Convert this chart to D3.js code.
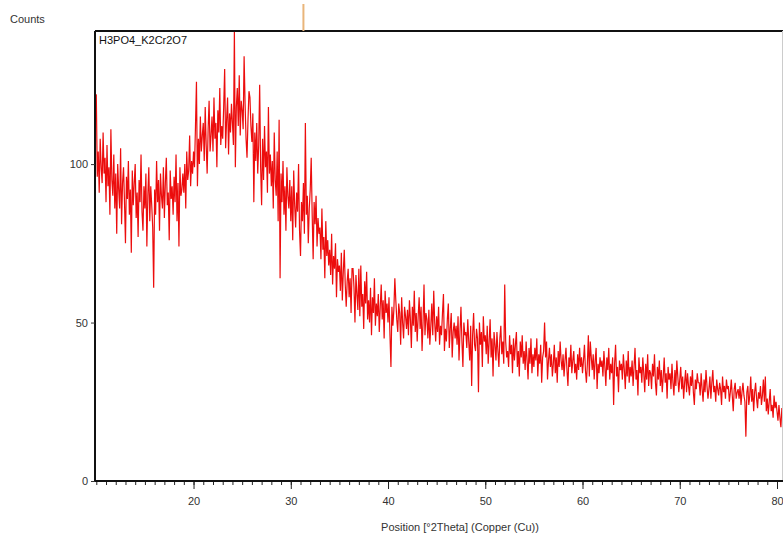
<!DOCTYPE html>
<html>
<head>
<meta charset="utf-8">
<script src="https://cdn.jsdelivr.net/npm/d3@7"></script>
<style>
  body { margin: 0; background: #fff; }
  svg { display: block; font-family: Arial, "Liberation Sans", sans-serif; }
</style>
</head>
<body>
<div id="chart"></div>
<script>
// Scan settings (2Theta, degrees)
const startAngle = 10.0;
const stepSize = 0.1;

// Counts, one row per degree (10.0 .. 80.9), then 81.0
const counts = [
  122, 96, 104, 91, 108, 99, 94, 110, 97, 102,
  88, 106, 93, 99, 84, 111, 95, 90, 103, 86,
  97, 78, 100, 92, 86, 105, 81, 94, 99, 88,
  75, 96, 89, 101, 84, 92, 72, 98, 87, 94,
  100, 83, 91, 77, 95, 88, 103, 85, 79, 93,
  86, 97, 74, 90, 99, 82, 93, 87, 80, 61,
  92, 84, 101, 88, 95, 79, 97, 90, 86, 99,
  83, 94, 102, 87, 91, 76, 98, 89, 93, 84,
  96, 88, 103, 82, 94, 74, 99, 90, 92, 97,
  91, 100, 86, 104, 95, 98, 109, 93, 101, 97,
  104, 99, 112, 126, 93, 108, 100, 115, 104, 109,
  113, 101, 118, 106, 97, 111, 120, 104, 109, 115,
  104, 121, 108, 113, 99, 117, 110, 124, 106, 112,
  108, 118, 130, 105, 114, 121, 103, 116, 110, 119,
  113, 106, 142, 99, 118, 124, 112, 128, 109, 120,
  117, 111, 134, 119, 108, 102, 114, 123, 121, 112,
  107, 116, 88, 110, 101, 113, 97, 106, 125, 99,
  87, 108, 95, 112, 99, 104, 91, 118, 97, 103,
  93, 101, 86, 110, 95, 90, 104, 82, 114, 64,
  97, 88, 101, 84, 93, 79, 99, 90, 86, 95,
  82, 93, 76, 98, 87, 80, 91, 85, 100, 79,
  71, 88, 82, 94, 78, 113, 84, 90, 75, 86,
  92, 102, 84, 70, 88, 81, 90, 74, 83, 78,
  80, 70, 86, 73, 77, 64, 82, 71, 76, 68,
  73, 65, 78, 62, 71, 67, 75, 58, 70, 66,
  68, 60, 72, 57, 66, 73, 62, 55, 63, 67,
  58, 64, 53, 67, 67, 61, 50, 65, 59, 54,
  67, 52, 68, 55, 59, 48, 63, 56, 66, 51,
  57, 50, 61, 46, 58, 53, 64, 49, 56, 52,
  59, 47, 55, 62, 51, 57, 45, 60, 53, 56,
  50, 58, 46, 36, 55, 49, 54, 64, 57, 51,
  47, 56, 53, 43, 58, 50, 45, 55, 52, 48,
  54, 46, 57, 51, 42, 55, 49, 60, 47, 53,
  44, 52, 58, 48, 55, 41, 50, 62, 46, 53,
  51, 45, 54, 43, 49, 56, 46, 60, 50, 44,
  52, 47, 55, 43, 49, 46, 53, 59, 41, 48,
  44, 51, 56, 42, 48, 53, 39, 47, 50, 45,
  49, 43, 52, 38, 47, 55, 44, 36, 50, 46,
  47, 42, 51, 44, 38, 49, 30, 46, 53, 43,
  41, 48, 45, 28, 50, 43, 47, 36, 52, 44,
  46, 40, 49, 37, 44, 51, 39, 45, 33, 47,
  43, 38, 47, 41, 36, 45, 49, 40, 44, 37,
  62, 44, 39, 41, 36, 46, 40, 43, 34, 45,
  38, 43, 47, 36, 41, 33, 44, 39, 46, 37,
  41, 35, 44, 38, 32, 42, 37, 45, 34, 40,
  36, 42, 38, 45, 33, 40, 37, 43, 31, 39,
  41, 50, 39, 44, 32, 38, 42, 36, 40, 33,
  37, 43, 34, 39, 31, 41, 36, 44, 38, 35,
  40, 33, 38, 42, 35, 30, 39, 36, 43, 34,
  38, 41, 34, 37, 32, 40, 35, 42, 36, 39,
  34, 38, 43, 35, 31, 37, 46, 33, 44, 39,
  35, 40, 32, 38, 42, 29, 37, 34, 39, 36,
  38, 33, 41, 36, 30, 39, 35, 42, 32, 37,
  34, 39, 24, 37, 43, 33, 36, 28, 38, 35,
  37, 32, 40, 35, 29, 38, 33, 41, 31, 36,
  33, 38, 30, 36, 42, 32, 35, 27, 39, 34,
  36, 31, 39, 34, 28, 37, 32, 40, 30, 35,
  34, 29, 37, 33, 40, 31, 27, 36, 32, 38,
  30, 35, 28, 33, 39, 31, 34, 26, 36, 32,
  34, 29, 37, 31, 27, 35, 30, 38, 33, 28,
  32, 36, 29, 33, 26, 31, 35, 28, 34, 30,
  27, 33, 30, 35, 28, 24, 32, 29, 34, 31,
  31, 27, 34, 29, 25, 32, 28, 35, 30, 26,
  29, 33, 26, 31, 35, 28, 30, 25, 32, 29,
  27, 31, 29, 24, 33, 28, 30, 26, 32, 29,
  30, 25, 28, 32, 27, 22, 29, 31, 26, 28,
  29, 26, 30, 24, 28, 31, 27, 25, 14, 28,
  30, 24, 27, 33, 25, 29, 22, 28, 31, 26,
  23, 28, 26, 30, 24, 27, 32, 25, 33, 22,
  26, 21, 25, 29, 22, 24, 20, 27, 23, 25,
  22, 19, 24, 20, 17, 23, 21, 18, 22, 19,
  20
];

const xTicks = [20, 30, 40, 50, 60, 70, 80];
const yTicks = [0, 50, 100];
const markerPositions = [31.3];

const sampleName = "H3PO4_K2Cr2O7";
const xTitle = "Position [°2Theta] (Copper (Cu))";
const yTitle = "Counts";

const width = 783, height = 540;
const frame = { left: 95, top: 31, right: 782, bottom: 481 };

const svg = d3.select("#chart").append("svg")
    .attr("width", width)
    .attr("height", height);

const x = d3.scaleLinear().domain([10, 80]).range([96.3, 777]);
const y = d3.scaleLinear().domain([0, 142]).range([frame.bottom, frame.top]);

// clip the pattern to the frame
svg.append("clipPath").attr("id", "plotClip")
    .append("rect")
    .attr("x", frame.left).attr("y", frame.top)
    .attr("width", frame.right - frame.left)
    .attr("height", frame.bottom - frame.top);

const pts = counts.map((c, i) => [startAngle + i * stepSize, c]);

const line = d3.line()
    .x(d => x(d[0]))
    .y(d => y(d[1]));

svg.append("path")
    .datum(pts)
    .attr("clip-path", "url(#plotClip)")
    .attr("fill", "none")
    .attr("stroke", "#ec0d0d")
    .attr("stroke-width", 1.2)
    .attr("d", line);

// frame
svg.append("line")
    .attr("x1", frame.left).attr("x2", width)
    .attr("y1", frame.top).attr("y2", frame.top)
    .attr("stroke", "#111").attr("stroke-width", 2);
svg.append("line")
    .attr("x1", frame.left).attr("x2", frame.left)
    .attr("y1", frame.top).attr("y2", frame.bottom)
    .attr("stroke", "#111").attr("stroke-width", 2);
svg.append("line")
    .attr("x1", frame.right + 0.5).attr("x2", frame.right + 0.5)
    .attr("y1", frame.top).attr("y2", frame.bottom)
    .attr("stroke", "#ccc").attr("stroke-width", 1);

// x axis with 1 degree minor ticks
const xAxis = svg.append("g")
    .attr("transform", `translate(0,${frame.bottom})`);
xAxis.call(d3.axisBottom(x)
        .tickValues(d3.range(10, 81, 1))
        .tickSize(4)
        .tickFormat(""))
    .call(g => g.select(".domain").remove())
    .call(g => g.selectAll("line").attr("stroke", "#222"));
xAxis.append("g")
    .call(d3.axisBottom(x).tickValues(xTicks).tickSize(8).tickPadding(8))
    .call(g => g.select(".domain").remove())
    .call(g => g.selectAll("line").attr("stroke", "#222"))
    .call(g => g.selectAll("text")
        .attr("fill", "#333")
        .style("font-size", "11px")
        .style("font-family", "Arial, 'Liberation Sans', sans-serif"));
svg.append("line")
    .attr("x1", frame.left - 1).attr("x2", width)
    .attr("y1", frame.bottom).attr("y2", frame.bottom)
    .attr("stroke", "#111").attr("stroke-width", 2);

// y axis
svg.append("g")
    .attr("transform", `translate(${frame.left},0)`)
    .call(d3.axisLeft(y).tickValues(yTicks).tickSize(4).tickPadding(3))
    .call(g => g.select(".domain").remove())
    .call(g => g.selectAll("line").attr("stroke", "#333"))
    .call(g => g.selectAll("text")
        .attr("fill", "#333")
        .style("font-size", "11px")
        .style("font-family", "Arial, 'Liberation Sans', sans-serif"));

// reference marker above the frame
svg.selectAll(".marker")
    .data(markerPositions)
    .join("line")
    .attr("class", "marker")
    .attr("x1", d => x(d)).attr("x2", d => x(d))
    .attr("y1", 4).attr("y2", frame.top)
    .attr("stroke", "#e9b57a")
    .attr("stroke-width", 2);

// texts
svg.append("text")
    .attr("x", 10).attr("y", 23)
    .attr("fill", "#333")
    .style("font-size", "11px")
    .text(yTitle);

svg.append("text")
    .attr("x", 99).attr("y", 44)
    .attr("fill", "#111")
    .style("font-size", "11px")
    .text(sampleName);

svg.append("text")
    .attr("x", 460).attr("y", 531)
    .attr("text-anchor", "middle")
    .attr("fill", "#333")
    .style("font-size", "11px")
    .text(xTitle);
</script>
</body>
</html>
